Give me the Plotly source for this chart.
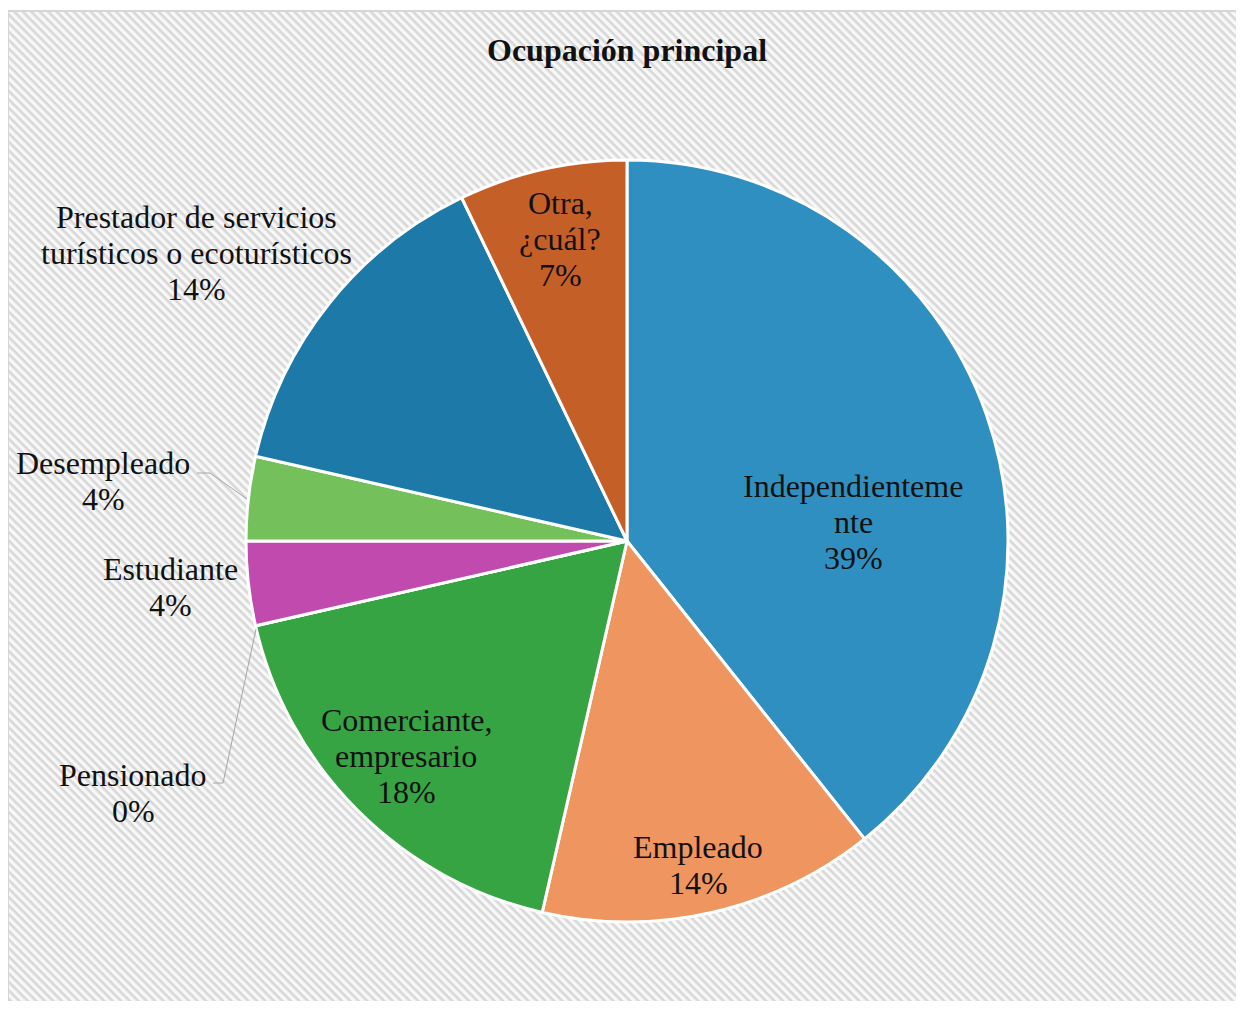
import base64
import plotly.graph_objects as go

# ---- data ----
categories = ["Independientemente", "Empleado", "Comerciante, empresario", "Pensionado",
              "Estudiante", "Desempleado",
              "Prestador de servicios turísticos o ecoturísticos", "Otra, ¿cuál?"]
counts = [11, 4, 5, 0, 1, 1, 4, 2]
label_lines = [["Independienteme", "nte"], ["Empleado"], ["Comerciante,", "empresario"],
               ["Pensionado"], ["Estudiante"], ["Desempleado"],
               ["Prestador de servicios", "turísticos o ecoturísticos"], ["Otra,", "¿cuál?"]]
title_text = "Ocupación principal"

# ---- style ----
OFF = 8                      # page body margin
W, H = 1244 - OFF, 1009 - 2 * OFF
colors = ["#2f8fc0", "#ef9560", "#36a442", "#a0a0a0", "#c04aae", "#74c05a", "#1d7aa8", "#c45f28"]
# label anchor (center x, first line y) in window pixels
label_pos = [(853, 486), (698, 847), (406, 720), (133, 775), (171, 569), (103, 463),
             (197, 217), (560, 203)]
line_step = 36
FONT = "Liberation Serif, Times New Roman, serif"

def px(x):
    return (x - OFF) / W

def py(y):
    return 1 - (y - OFF) / H

total = sum(counts)
pcts = [round(v / total * 100) for v in counts]

fig = go.Figure()
fig.add_trace(go.Pie(
    labels=categories, values=counts, sort=False, direction="clockwise", rotation=0,
    marker=dict(colors=colors, line=dict(color="white", width=3)),
    textinfo="none", hoverinfo="label+percent", showlegend=False,
    domain=dict(x=[px(246), px(1008)], y=[py(922), py(160)]),
))

annotations = []
for lines, pct, (cx, cy) in zip(label_lines, pcts, label_pos):
    for i, t in enumerate(lines + [f"{pct}%"]):
        annotations.append(dict(x=px(cx), y=py(cy + i * line_step), xref="paper", yref="paper",
                                text=t, showarrow=False, xanchor="center", yanchor="middle",
                                font=dict(family=FONT, size=32, color="#111111")))
annotations.append(dict(x=px(627), y=py(50), xref="paper", yref="paper", text=f"<b>{title_text}</b>",
                        showarrow=False, xanchor="center", yanchor="middle",
                        font=dict(family=FONT, size=32, color="#111111")))

# hatched background as an SVG image
bw, bh = 1244 - 8, H + OFF - 12 + 2
svg = (f'<svg xmlns="http://www.w3.org/2000/svg" width="{bw}" height="{bh}">'
       '<defs><pattern id="p" width="6" height="6" patternUnits="userSpaceOnUse" '
       'patternTransform="rotate(45)"><rect width="6" height="6" fill="#f8f8f8"/>'
       '<rect width="6" height="2.6" fill="#d8d8d8"/></pattern></defs>'
       f'<rect width="{bw}" height="{bh}" fill="url(#p)"/></svg>')
src = "data:image/svg+xml;base64," + base64.b64encode(svg.encode()).decode()

shapes = [
    dict(type="rect", xref="paper", yref="paper", x0=px(8), x1=px(1250), y0=py(H + OFF + 4), y1=py(11),
         line=dict(color="#d6d6d6", width=2), layer="below"),
    dict(type="path", xref="paper", yref="paper",
         path=f"M {px(197)},{py(473)} L {px(210)},{py(473)} L {px(247)},{py(499)}",
         line=dict(color="#a6a6a6", width=1)),
    dict(type="path", xref="paper", yref="paper",
         path=f"M {px(213)},{py(783)} L {px(223)},{py(783)} L {px(256)},{py(629)}",
         line=dict(color="#a6a6a6", width=1)),
]

fig.update_layout(
    width=W, height=H, margin=dict(l=0, r=0, t=0, b=0),
    paper_bgcolor="white", plot_bgcolor="white",
    annotations=annotations, shapes=shapes,
    images=[dict(source=src, xref="paper", yref="paper", x=px(8), y=py(12), sizex=bw / W,
                 sizey=bh / H, xanchor="left", yanchor="top", sizing="stretch", layer="below")],
)
fig.write_html("out.html")
